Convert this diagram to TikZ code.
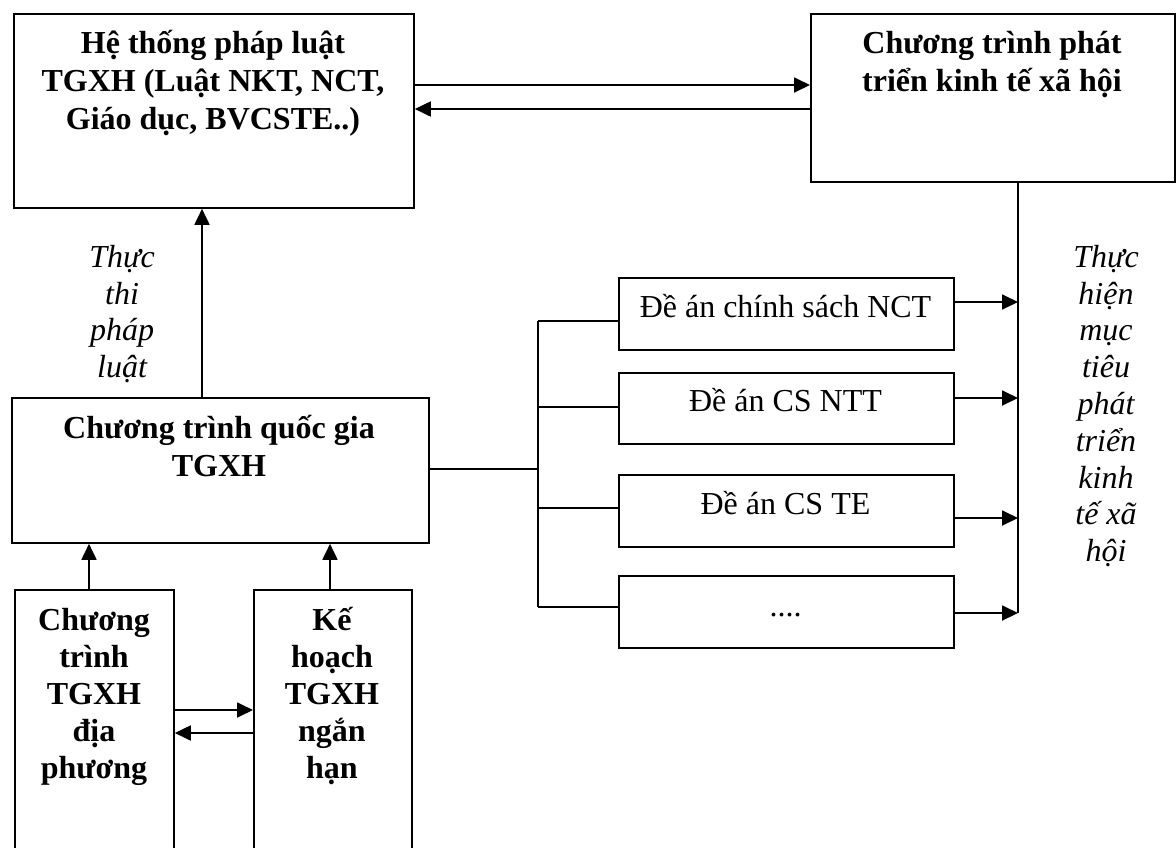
\documentclass[tikz,border=0pt]{standalone}
\usepackage{fontspec}
\setmainfont{Liberation Serif}
\usetikzlibrary{arrows.meta}
\newcommand{\firststrut}{\rule{0pt}{34pt}}
\begin{document}
\begin{tikzpicture}[x=1pt,y=-1pt,
  box/.style={draw, line width=1.8pt, inner sep=0pt, anchor=north west},
  btxt/.style={font=\fontsize{32}{38}\selectfont\bfseries, align=center, anchor=north, inner sep=0pt},
  btxtb/.style={font=\fontsize{32}{37}\selectfont\bfseries, align=center, anchor=north, inner sep=0pt},
  rtxt/.style={font=\fontsize{32}{38}\selectfont, align=center, anchor=north, inner sep=0pt},
  itxt/.style={font=\fontsize{32}{36.8}\selectfont\itshape, align=center, anchor=north, inner sep=0pt},
  ln/.style={line width=1.8pt},
  arr/.style={line width=1.8pt, -{Triangle[length=16pt,width=15pt]}},
]
\useasboundingbox (0,0) rectangle (1176,847);
\clip (0,0) rectangle (1176,847);

% boxes
\node[box, minimum width=400pt, minimum height=194pt] (law) at (13,13) {};
\node[box, minimum width=364pt, minimum height=168pt] (dev) at (810,13) {};
\node[box, minimum width=417pt, minimum height=145pt] (nat) at (11,397) {};
\node[box, minimum width=159pt, minimum height=300pt] (loc) at (14,589) {};
\node[box, minimum width=158pt, minimum height=300pt] (plan) at (253,589) {};
\node[box, minimum width=335pt, minimum height=72pt] (p1) at (618,277) {};
\node[box, minimum width=335pt, minimum height=71pt] (p2) at (618,372) {};
\node[box, minimum width=335pt, minimum height=72pt] (p3) at (618,474) {};
\node[box, minimum width=335pt, minimum height=72pt] (p4) at (618,575) {};

% texts
\node[btxt] (lawt) at (213,19) {\firststrut Hệ thống pháp luật\\TGXH (Luật NKT, NCT,\\Giáo dục, BVCSTE..)};
\node[btxt] (devt) at (992,19) {\firststrut Chương trình phát\\triển kinh tế xã hội};
\node[btxt] (natt) at (219,404) {\firststrut Chương trình quốc gia\\TGXH};
\node[btxtb] (loct) at (94,596) {\firststrut Chương\\trình\\TGXH\\địa\\phương};
\node[btxtb] (plant) at (332,596) {\firststrut Kế\\hoạch\\TGXH\\ngắn\\hạn};
\node[rtxt] (p1t) at (785.5,283) {\firststrut Đề án chính sách NCT};
\node[rtxt] (p2t) at (785.5,377) {\firststrut Đề án CS NTT};
\node[rtxt] (p3t) at (785.5,480) {\firststrut Đề án CS TE};
\node[rtxt] (p4t) at (785.5,582) {\firststrut ....};
\node[itxt] (lab1) at (122,233) {\firststrut Thực\\thi\\pháp\\luật};
\node[itxt] (lab2) at (1106,233) {\firststrut Thực\\hiện\\mục\\tiêu\\phát\\triển\\kinh\\tế xã\\hội};

% helper coordinates
\coordinate (yA) at (0,85);
\coordinate (yB) at (0,109);
\coordinate (xU) at (202,0);
\coordinate (xL) at (89,0);
\coordinate (xR) at (330,0);
\coordinate (yC) at (0,710);
\coordinate (yD) at (0,733);
\coordinate (bus) at (538,469);
\coordinate (b1) at (0,321);
\coordinate (b2) at (0,407);
\coordinate (b3) at (0,508);
\coordinate (b4) at (0,607);
\coordinate (vr) at (1018,613);
\coordinate (r1) at (0,302);
\coordinate (r2) at (0,398);
\coordinate (r3) at (0,518);

% connectors
\draw[arr] (law.east |- yA) -- (dev.west |- yA);
\draw[arr] (dev.west |- yB) -- (law.east |- yB);
\draw[arr] (nat.north -| xU) -- (law.south -| xU);
\draw[arr] (loc.north -| xL) -- (nat.south -| xL);
\draw[arr] (plan.north -| xR) -- (nat.south -| xR);
\draw[arr] (loc.east |- yC) -- (plan.west |- yC);
\draw[arr] (plan.west |- yD) -- (loc.east |- yD);

\draw[ln] (nat.east |- bus) -- (bus);
\draw[ln] (bus |- b1) -- (bus |- b4);
\draw[ln] (bus |- b1) -- (p1.west |- b1);
\draw[ln] (bus |- b2) -- (p2.west |- b2);
\draw[ln] (bus |- b3) -- (p3.west |- b3);
\draw[ln] (bus |- b4) -- (p4.west |- b4);

\draw[ln] (dev.south -| vr) -- (vr);
\draw[arr] (p1.east |- r1) -- (vr |- r1);
\draw[arr] (p2.east |- r2) -- (vr |- r2);
\draw[arr] (p3.east |- r3) -- (vr |- r3);
\draw[arr] (p4.east |- vr) -- (vr);
\end{tikzpicture}
\end{document}
